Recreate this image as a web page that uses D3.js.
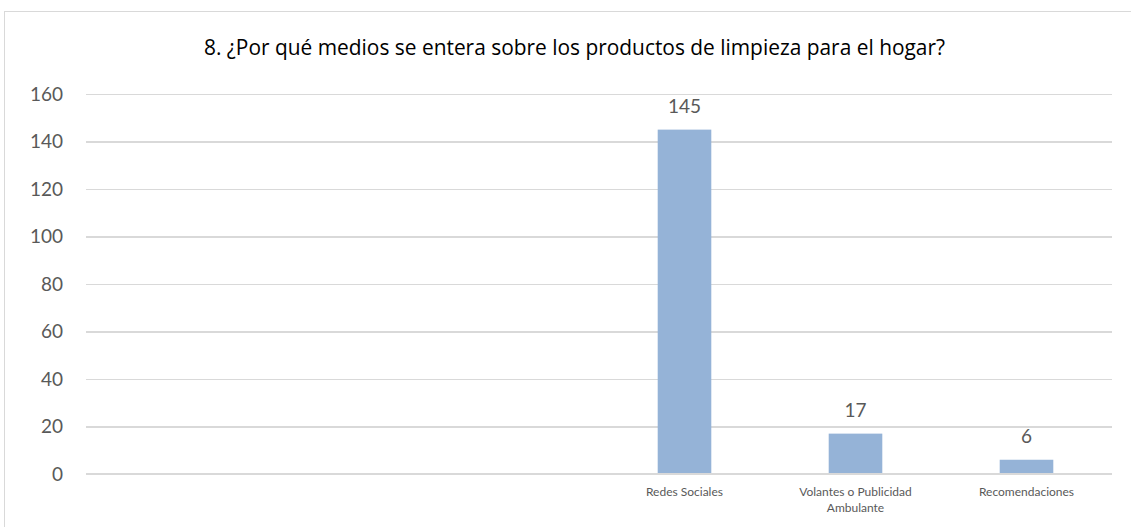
<!DOCTYPE html>
<html>
<head>
<meta charset="utf-8">
<script src="https://cdn.jsdelivr.net/npm/d3@7"></script>
<style>
  html, body { margin: 0; padding: 0; background: #fff; }
  svg { display: block; }
</style>
</head>
<body>
<svg id="chart" width="1131" height="527"></svg>
<script>
const title = "8. ¿Por qué medios se entera sobre los productos de limpieza para el hogar?";
const categories = ["", "", "", "Redes Sociales", "Volantes o Publicidad Ambulante", "Recomendaciones"];
const values = [null, null, null, 145, 17, 6];
const yTicks = [0, 20, 40, 60, 80, 100, 120, 140, 160];

const W = 1131, H = 527;
const margin = { left: 86, right: 19, top: 94, bottom: 53 };
const svg = d3.select("#chart");
const font = "Lato, 'Open Sans', sans-serif";
const titleFont = "'Open Sans', Lato, sans-serif";

// frame
svg.append("rect")
  .attr("x", 4.5).attr("y", 11.5)
  .attr("width", W + 10).attr("height", H + 10)
  .attr("fill", "none").attr("stroke", "#D9D9D9").attr("stroke-width", 1);

const x = d3.scaleBand()
  .domain(d3.range(categories.length))
  .range([margin.left, W - margin.right])
  .paddingInner(0).paddingOuter(0);

const y = d3.scaleLinear()
  .domain([0, 160])
  .range([H - margin.bottom, margin.top]);

// gridlines
const grid = d3.axisLeft(y).tickValues(yTicks)
  .tickSize(-(W - margin.right - margin.left)).tickFormat("");
svg.append("g")
  .attr("transform", `translate(${margin.left},0)`)
  .call(grid)
  .call(g => g.select(".domain").remove())
  .call(g => g.selectAll("line").attr("stroke", "#D9D9D9").attr("stroke-width", 1.2)
    .attr("shape-rendering", "crispEdges"));

// y tick labels
const yAxis = d3.axisLeft(y).tickValues(yTicks).tickSize(0).tickPadding(23);
svg.append("g")
  .attr("transform", `translate(${margin.left},0)`)
  .call(yAxis)
  .call(g => g.select(".domain").remove())
  .call(g => g.selectAll("text")
    .attr("fill", "#595959").attr("font-size", "19px").attr("font-family", font));

// bars
const gap = 2.19;
const bw = x.bandwidth() / (1 + gap);
const data = categories.map((c, i) => ({ i, c, v: values[i] }));
svg.append("g").selectAll("rect")
  .data(data.filter(d => d.v != null))
  .join("rect")
  .attr("x", d => x(d.i) + (x.bandwidth() - bw) / 2)
  .attr("width", bw)
  .attr("y", d => y(d.v))
  .attr("height", d => y(0) - y(d.v))
  .attr("fill", "#95B3D7");

// x axis line
svg.append("line")
  .attr("x1", margin.left).attr("x2", W - margin.right)
  .attr("y1", y(0)).attr("y2", y(0))
  .attr("stroke", "#D9D9D9").attr("stroke-width", 2);

// value labels
svg.append("g").selectAll("text")
  .data(data.filter(d => d.v != null))
  .join("text")
  .attr("x", d => x(d.i) + x.bandwidth() / 2)
  .attr("y", d => y(d.v) - 17)
  .attr("text-anchor", "middle")
  .attr("fill", "#595959")
  .attr("font-size", "19px")
  .attr("font-family", font)
  .text(d => d.v);

// category labels with wrapping
const catG = svg.append("g");
data.forEach(d => {
  if (!d.c) return;
  const t = catG.append("text")
    .attr("x", x(d.i) + x.bandwidth() / 2)
    .attr("y", y(0) + 22)
    .attr("text-anchor", "middle")
    .attr("fill", "#595959")
    .attr("font-size", "12px")
    .attr("font-family", font);
  const words = d.c.split(" ");
  let line = [], lines = [];
  const tmp = t.append("tspan");
  words.forEach(w => {
    line.push(w);
    tmp.text(line.join(" "));
    if (tmp.node().getComputedTextLength() > 130 && line.length > 1) {
      line.pop();
      lines.push(line.join(" "));
      line = [w];
    }
  });
  lines.push(line.join(" "));
  tmp.remove();
  lines.forEach((l, k) => {
    t.append("tspan")
      .attr("x", x(d.i) + x.bandwidth() / 2)
      .attr("dy", k === 0 ? 0 : 16)
      .text(l);
  });
});

// title
svg.append("text")
  .attr("x", 574.5).attr("y", 55)
  .attr("text-anchor", "middle")
  .attr("fill", "#000")
  .attr("font-size", "20.9px")
  .attr("font-family", titleFont)
  .text(title);
</script>
</body>
</html>
